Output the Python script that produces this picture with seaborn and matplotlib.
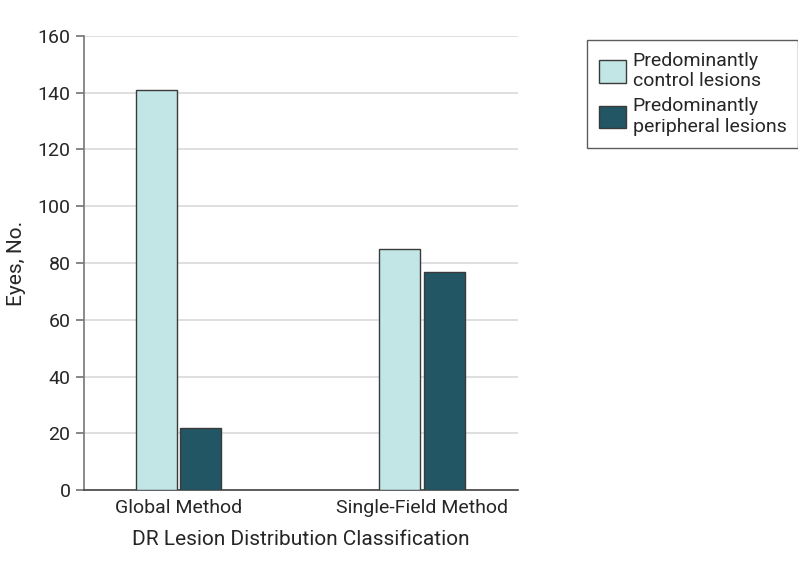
import pandas as pd
import matplotlib
matplotlib.use("Agg")
import matplotlib.pyplot as plt
import seaborn as sns

# data
methods = ["Global Method", "Single-Field Method"]
groups = ["Predominantly\ncontrol lesions", "Predominantly\nperipheral lesions"]
control_eyes = [141, 85]
peripheral_eyes = [22, 77]

df = pd.DataFrame({
    "method": methods * 2,
    "group": [groups[0]] * 2 + [groups[1]] * 2,
    "eyes": control_eyes + peripheral_eyes,
})

sns.set_theme(style="white")
plt.rcParams["font.family"] = ["Roboto", "DejaVu Sans"]

fig = plt.figure(figsize=(7.98, 5.70), dpi=100)
ax = fig.add_axes([0.105, 0.140, 0.544, 0.797])

palette = {groups[0]: "#c2e6e6", groups[1]: "#225664"}
sns.barplot(data=df, x="method", y="eyes", hue="group", palette=palette,
            width=0.366, gap=0.08, edgecolor="#3a3a3a", linewidth=1.0,
            saturation=1, ax=ax, zorder=3)

ax.set_ylim(0, 160)
ax.set_yticks(range(0, 161, 20))
ax.set_xlim(-0.388, 1.394)
ax.yaxis.grid(True, color="#d9d9d9", linewidth=1.2, zorder=0)
ax.set_axisbelow(True)

for side in ["top", "right"]:
    ax.spines[side].set_visible(False)
ax.spines["left"].set_color("#777777")
ax.spines["bottom"].set_color("#444444")
ax.spines["left"].set_linewidth(1.2)
ax.spines["bottom"].set_linewidth(1.2)

ax.tick_params(axis="y", length=6, color="#777777", labelsize=14, left=True)
ax.tick_params(axis="x", length=0, labelsize=14, pad=6)
ax.set_xlabel("DR Lesion Distribution Classification", fontsize=15, labelpad=10)
ax.set_ylabel("Eyes, No.", fontsize=15, labelpad=8)

leg = ax.legend(title=None, loc="upper left", bbox_to_anchor=(0.7356, 0.930),
                bbox_transform=fig.transFigure, frameon=True, fancybox=False,
                fontsize=14, handlelength=1.4, handleheight=1.4,
                borderpad=0.6, labelspacing=0.35, handletextpad=0.35,
                borderaxespad=0)
leg.get_frame().set_edgecolor("#333333")
leg.get_frame().set_linewidth(1.0)

fig.savefig("out.png", dpi=100)
